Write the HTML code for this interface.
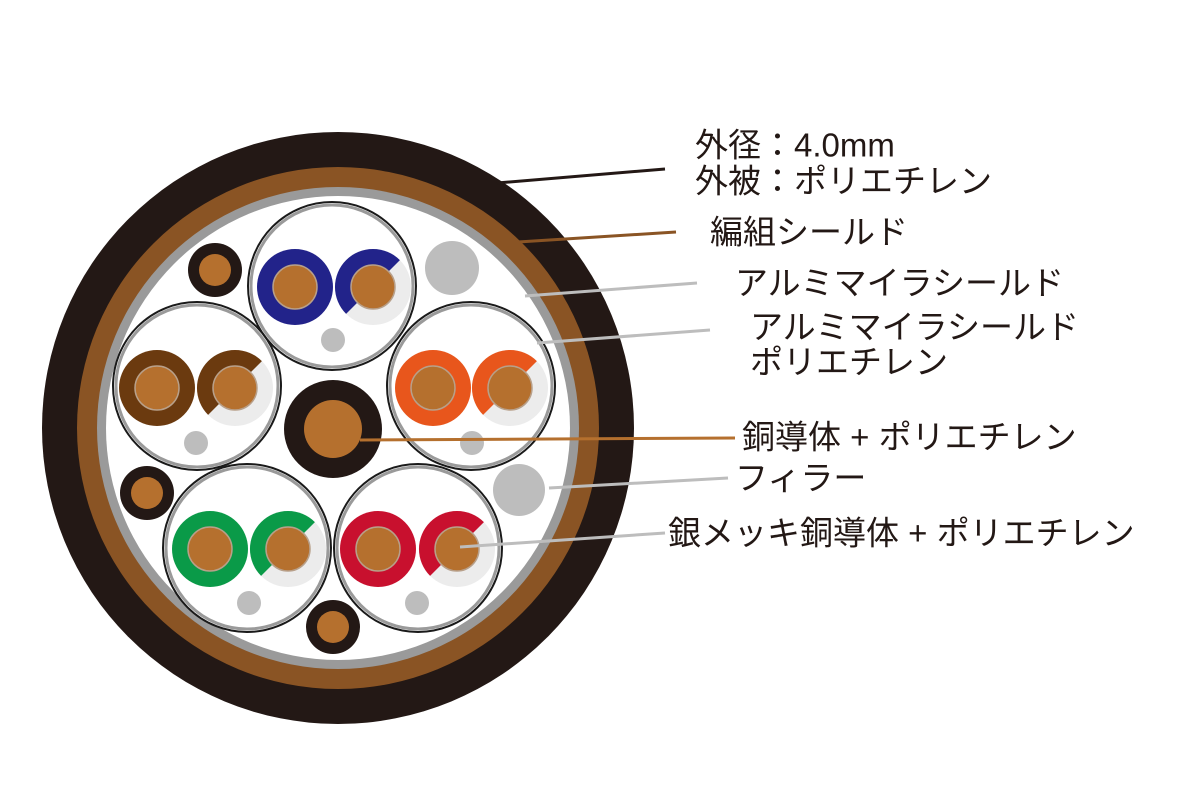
<!DOCTYPE html>
<html><head><meta charset="utf-8"><style>
html,body{margin:0;padding:0;background:#fff;}
svg{display:block;}
text{font-family:"Liberation Sans","Noto Sans CJK JP",sans-serif;font-size:33px;fill:#231815;dominant-baseline:central;}
</style></head><body>
<svg width="1200" height="800" viewBox="0 0 1200 800" xmlns="http://www.w3.org/2000/svg">
<defs>
<g id="pairc">
  <circle r="84" fill="#fff" stroke="#1a1a1a" stroke-width="2"/>
  <circle r="81" fill="none" stroke="#9a9a9a" stroke-width="3"/>
</g>
</defs>
<circle cx="338" cy="428" r="296" fill="#231815"/>
<circle cx="338" cy="428" r="261" fill="#8a5424"/>
<circle cx="338" cy="428" r="241" fill="#9a9a9a"/>
<circle cx="338" cy="428" r="232" fill="#fff"/>

<g fill="#231815"><circle cx="215" cy="270" r="27"/><circle cx="147" cy="493" r="27"/><circle cx="333" cy="627" r="27"/></g>
<g fill="#b5702e"><circle cx="215" cy="270" r="16"/><circle cx="147" cy="493" r="16"/><circle cx="333" cy="627" r="16"/></g>
<circle cx="452" cy="268" r="27" fill="#bdbdbd"/>
<circle cx="519" cy="490" r="26" fill="#bdbdbd"/>

<g transform="translate(332,286)"><use href="#pairc"/></g>
<g transform="translate(197,386)"><use href="#pairc"/></g>
<g transform="translate(471,386)"><use href="#pairc"/></g>
<g transform="translate(247,548)"><use href="#pairc"/></g>
<g transform="translate(418,548)"><use href="#pairc"/></g>

<g>
 <circle cx="295" cy="287" r="38" fill="#22238a"/><circle cx="295" cy="287" r="22" fill="#b5702e" stroke="#b8a08a" stroke-width="1.5"/>
 <circle cx="373" cy="287" r="38" fill="#ececec"/>
 <path d="M399.9 260.1 A38 38 0 0 0 346.1 313.9 Z" fill="#22238a"/>
 <circle cx="373" cy="287" r="22" fill="#b5702e" stroke="#b8a08a" stroke-width="1.5"/>
 <circle cx="333" cy="340" r="12" fill="#bdbdbd"/>
</g>
<g>
 <circle cx="157" cy="388" r="38" fill="#6b3a0f"/><circle cx="157" cy="388" r="22" fill="#b5702e" stroke="#b8a08a" stroke-width="1.5"/>
 <circle cx="235" cy="388" r="38" fill="#ececec"/>
 <path d="M261.9 361.1 A38 38 0 0 0 208.1 414.9 Z" fill="#6b3a0f"/>
 <circle cx="235" cy="388" r="22" fill="#b5702e" stroke="#b8a08a" stroke-width="1.5"/>
 <circle cx="196" cy="443" r="12" fill="#bdbdbd"/>
</g>
<g>
 <circle cx="433" cy="388" r="38" fill="#e8561c"/><circle cx="433" cy="388" r="22" fill="#b5702e" stroke="#b8a08a" stroke-width="1.5"/>
 <circle cx="510" cy="388" r="38" fill="#ececec"/>
 <path d="M536.9 361.1 A38 38 0 0 0 483.1 414.9 Z" fill="#e8561c"/>
 <circle cx="510" cy="388" r="22" fill="#b5702e" stroke="#b8a08a" stroke-width="1.5"/>
 <circle cx="472" cy="443" r="12" fill="#bdbdbd"/>
</g>
<g>
 <circle cx="210" cy="549" r="38" fill="#0a9a48"/><circle cx="210" cy="549" r="22" fill="#b5702e" stroke="#b8a08a" stroke-width="1.5"/>
 <circle cx="288" cy="549" r="38" fill="#ececec"/>
 <path d="M314.9 522.1 A38 38 0 0 0 261.1 575.9 Z" fill="#0a9a48"/>
 <circle cx="288" cy="549" r="22" fill="#b5702e" stroke="#b8a08a" stroke-width="1.5"/>
 <circle cx="249" cy="603" r="12" fill="#bdbdbd"/>
</g>
<g>
 <circle cx="378" cy="549" r="38" fill="#c8102e"/><circle cx="378" cy="549" r="22" fill="#b5702e" stroke="#b8a08a" stroke-width="1.5"/>
 <circle cx="457" cy="549" r="38" fill="#ececec"/>
 <path d="M483.9 522.1 A38 38 0 0 0 430.1 575.9 Z" fill="#c8102e"/>
 <circle cx="457" cy="549" r="22" fill="#b5702e" stroke="#b8a08a" stroke-width="1.5"/>
 <circle cx="417" cy="603" r="12" fill="#bdbdbd"/>
</g>

<circle cx="333" cy="429" r="49" fill="#231815"/>
<circle cx="333" cy="429" r="29" fill="#b5702e"/>

<g stroke-width="3" fill="none">
 <line x1="497" y1="183" x2="665" y2="169" stroke="#231815"/>
 <line x1="518" y1="242" x2="676" y2="232" stroke="#8a5424"/>
 <line x1="525" y1="296" x2="697" y2="283" stroke="#bdbdbd"/>
 <line x1="537" y1="343" x2="710" y2="330" stroke="#bdbdbd"/>
 <line x1="360" y1="440" x2="735" y2="438" stroke="#b5702e"/>
 <line x1="549" y1="488" x2="728" y2="478" stroke="#bdbdbd"/>
 <line x1="460" y1="547" x2="665" y2="533" stroke="#bdbdbd"/>
</g>

<text x="695" y="145">外径：4.0mm</text>
<text x="695" y="181">外被：ポリエチレン</text>
<text x="710" y="232">編組シールド</text>
<text x="735" y="283">アルミマイラシールド</text>
<text x="750" y="327">アルミマイラシールド</text>
<text x="750" y="362">ポリエチレン</text>
<text x="742" y="437">銅導体 + ポリエチレン</text>
<text x="735" y="478">フィラー</text>
<text x="668" y="533">銀メッキ銅導体 + ポリエチレン</text>
</svg>
</body></html>
